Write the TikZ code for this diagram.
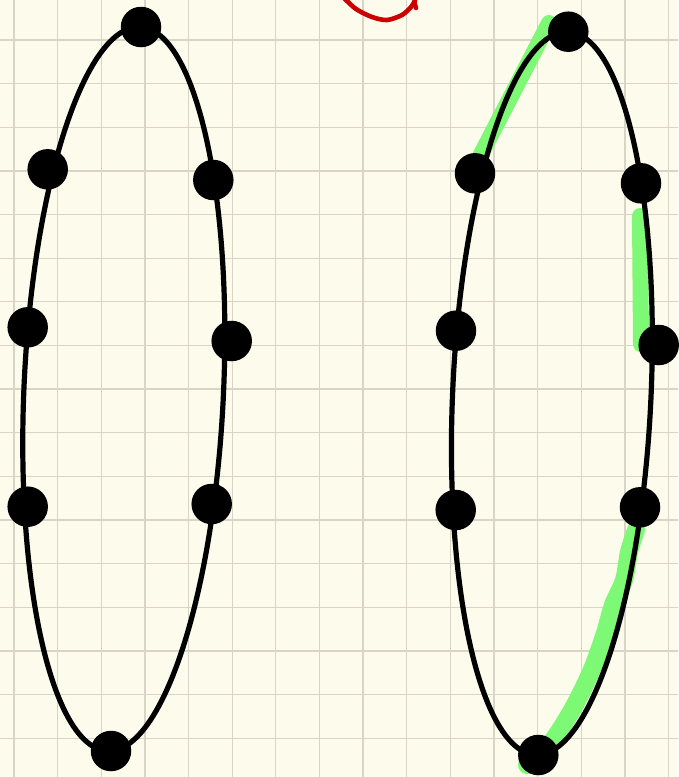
\documentclass[tikz,border=0pt]{standalone}
\definecolor{paper}{RGB}{253,251,236}
\definecolor{gridc}{RGB}{216,213,198}
\definecolor{hl}{RGB}{126,249,118}
\definecolor{redink}{RGB}{204,0,0}
\tikzset{
  gridline/.style={draw=gridc, line width=1.3pt},
  ring/.style={draw=black, line width=5.2pt},
  dot/.style={circle, fill=black, draw=none, inner sep=0pt, minimum size=40.5pt},
  marker/.style={draw=hl, line cap=round, line join=round},
  redstroke/.style={draw=redink, line width=4.6pt, line cap=round, line join=round}
}
\begin{document}
\begin{tikzpicture}[x=1pt,y=-1pt]
\fill[paper] (0,0) rectangle (678,777);
\useasboundingbox (0,0) rectangle (678,777);
% grid
\foreach \i in {0,...,15} {\draw[gridline] ({14+43.64*\i},0) -- ({14+43.64*\i},777);}
\foreach \j in {0,...,16} {\draw[gridline] (0,{40+43.64*\j}) -- (678,{40+43.64*\j});}
% green highlights
\draw[marker, line width=16pt] (478,160) -- (549,23);
\draw[marker, line width=16pt] (640,216) -- (641,344);
\draw[marker, line width=18pt] plot[smooth] coordinates {(636,530) (629,552) (624,580) (613,605) (605,633) (593,667) (580,695) (568,717) (553,740) (538,755) (527,765)};
% ellipses
\coordinate (cl) at (123.8,389);
\coordinate (cr) at (551.9,393.3);
\draw[ring, rotate around={-2.58:(cl)}] (cl) ellipse [x radius=99.8, y radius=362.3];
\draw[ring, rotate around={-2.58:(cr)}] (cr) ellipse [x radius=99.2, y radius=361.8];
% left dots
\node[dot] (lt) at (141,27) {};
\node[dot] (la) at (47.7,169.3) {};
\node[dot] (lb) at (27.7,327.3) {};
\node[dot] (lc) at (27.7,506.7) {};
\node[dot] (ld) at (213.3,180) {};
\node[dot] (le) at (231.7,341) {};
\node[dot] (lf) at (211.7,504) {};
\node[dot] (lbot) at (111,751) {};
% right dots
\node[dot] (rt) at (568.3,31.7) {};
\node[dot] (ra) at (475,173.3) {};
\node[dot] (rb) at (456,330.7) {};
\node[dot] (rc) at (455.7,510) {};
\node[dot] (rd) at (641,183.3) {};
\node[dot] (re) at (658.7,345) {};
\node[dot] (rf) at (640,507.3) {};
\node[dot] (rbot) at (538.3,755) {};
% red stroke
\draw[redstroke] plot[smooth] coordinates {(344,-2) (356,9) (372,17) (387,20) (402,15) (411,7) (415,1)};
\draw[redstroke] (414,2) -- (416,8);
\end{tikzpicture}
\end{document}
